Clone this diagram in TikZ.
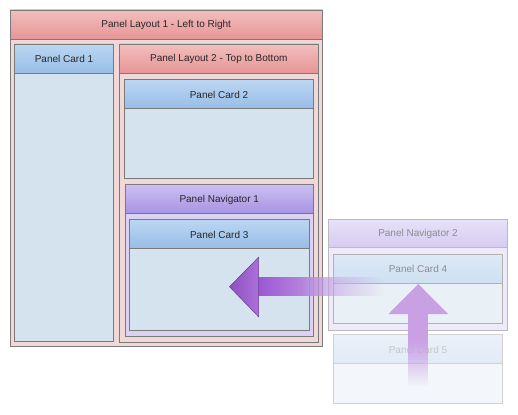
\documentclass[tikz,border=0pt]{standalone}
\usepackage{fontspec}
\setmainfont{Liberation Sans}
\definecolor{bordr}{HTML}{7A7A7A}
\definecolor{layTop}{HTML}{F3BEBE}
\definecolor{layBot}{HTML}{E69494}
\definecolor{layBody}{HTML}{F1D8D8}
\definecolor{crdTop}{HTML}{BCD6F2}
\definecolor{crdBot}{HTML}{97BDE7}
\definecolor{crdBody}{HTML}{D4E3ED}
\definecolor{navTop}{HTML}{CABFF3}
\definecolor{navBot}{HTML}{A893E2}
\definecolor{navBody}{HTML}{DAD2F3}
\definecolor{navTopF}{HTML}{E7E1F9}
\definecolor{navBotF}{HTML}{D5CBF1}
\definecolor{navBodyF}{HTML}{EEEAFA}
\definecolor{crdTopF}{HTML}{DDE9F6}
\definecolor{crdBotF}{HTML}{CEE0F2}
\definecolor{crdBodyF}{HTML}{E9F0F6}
\definecolor{crdTopG}{HTML}{EAF1FA}
\definecolor{crdBotG}{HTML}{E1EBF6}
\definecolor{crdBodyG}{HTML}{F3F6FA}
\definecolor{arrA}{HTML}{9C57D2}
\definecolor{arrB}{HTML}{C8A6E6}
\definecolor{arrUp}{HTML}{C9A0E4}
\tikzset{
  lbl/.style={font=\fontsize{10}{12}\selectfont, text=black!85},
  layhead/.style={draw=bordr, line width=0.8pt, top color=layTop, bottom color=layBot},
  laybody/.style={draw=bordr, line width=0.8pt, fill=layBody},
  crdhead/.style={draw=bordr, line width=0.8pt, top color=crdTop, bottom color=crdBot},
  crdbody/.style={draw=bordr, line width=0.8pt, fill=crdBody},
  navhead/.style={draw=bordr, line width=0.8pt, top color=navTop, bottom color=navBot},
  navbody/.style={draw=bordr, line width=0.8pt, fill=navBody},
  navheadF/.style={draw=black!27, line width=0.8pt, top color=navTopF, bottom color=navBotF},
  navbodyF/.style={draw=black!27, line width=0.8pt, fill=navBodyF},
  crdheadF/.style={draw=black!30, line width=0.8pt, top color=crdTopF, bottom color=crdBotF},
  crdbodyF/.style={draw=black!30, line width=0.8pt, fill=crdBodyF},
  crdheadG/.style={draw=black!18, line width=0.8pt, top color=crdTopG, bottom color=crdBotG},
  crdbodyG/.style={draw=black!18, line width=0.8pt, fill=crdBodyG},
}
% #1 name, #2 x1, #3 y1, #4 x2, #5 y header bottom, #6 y2, #7 header style, #8 body style, #9 text
\newcommand\pnl[9]{%
  \draw[#8] (#2,#5) rectangle (#4,#6);
  \draw[#7] (#2,#3) rectangle (#4,#5);
  \coordinate (#1-nw) at (#2,#3);
  \coordinate (#1-se) at (#4,#6);
  \node[lbl] (#1) at ({(#2+#4)/2},{(#3+#5)/2+0.5}) {#9};
}
\begin{document}
\begin{tikzpicture}[x=1pt,y=-1pt]
\useasboundingbox (0,0) rectangle (518,414);
\pnl{lay1}{10}{10}{322.5}{39.5}{346.5}{layhead}{laybody}{Panel Layout 1 - Left to Right}
\pnl{card1}{14.5}{44}{113.5}{73.5}{341.5}{crdhead}{crdbody}{Panel Card 1}
\pnl{lay2}{119.5}{44}{318}{73.5}{342}{layhead}{laybody}{Panel Layout 2 - Top to Bottom}
\pnl{card2}{124.5}{79.5}{313.5}{108.5}{178}{crdhead}{crdbody}{Panel Card 2}
\pnl{nav1}{125}{184.5}{313.5}{213.5}{336.5}{navhead}{navbody}{Panel Navigator 1}
\pnl{card3}{129.5}{219.5}{309}{248.5}{330.5}{crdhead}{crdbody}{Panel Card 3}
% faded elements
\pnl{nav2}{328.5}{219.5}{507.5}{247.5}{330}{navheadF}{navbodyF}{\textcolor{black!45}{Panel Navigator 2}}
\pnl{card4}{333.5}{254}{502.5}{283.5}{323.5}{crdheadF}{crdbodyF}{\textcolor{black!45}{Panel Card 4}}
\pnl{card5}{333.5}{334.5}{502.5}{363.5}{403.5}{crdheadG}{crdbodyG}{\textcolor{black!22}{Panel Card 5}}
% left arrow: fading shaft made of slices
\foreach \i in {0,...,63}{
  \pgfmathsetmacro\t{\i/63}
  \pgfmathsetmacro\op{min(1,1.5*(1-\t))}
  \pgfmathsetmacro\mx{100-100*min(1,\t*1.6)}
  \fill[color=arrA!\mx!arrB, opacity=\op] (258+2*\i,277.3) rectangle (260.05+2*\i,296.2);
}
\coordinate (ltip) at (229.5,286.7);
\draw[draw=arrA!70!black, line width=0.5pt, left color=arrA!92!black, right color=arrA!85!white]
  (ltip) -- (258.5,257.3) -- (258.5,316.7) -- cycle;
% up arrow
\foreach \i in {0,...,36}{
  \pgfmathsetmacro\t{\i/36}
  \pgfmathsetmacro\op{min(1,1.6*(1-\t))}
  \fill[color=arrUp, opacity=\op] (408.3,313.5+2*\i) rectangle (428.3,315.55+2*\i);
}
\coordinate (utip) at (418.3,284);
\fill[fill=arrUp] (utip) -- (448,314) -- (388.5,314) -- cycle;
\end{tikzpicture}
\end{document}
